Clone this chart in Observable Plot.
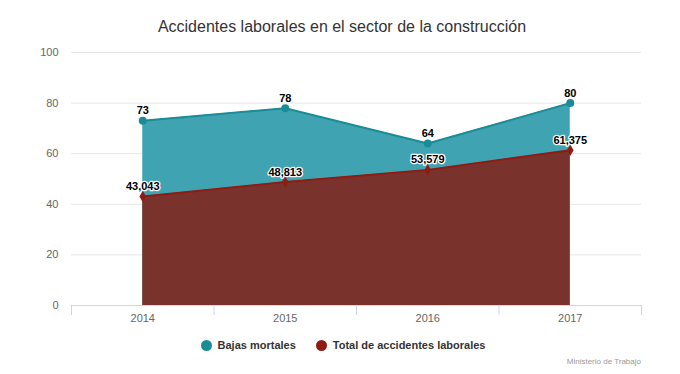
<!DOCTYPE html>
<html><head><meta charset="utf-8">
<script src="https://cdn.jsdelivr.net/npm/d3@7"></script>
<script src="https://cdn.jsdelivr.net/npm/@observablehq/plot@0.6"></script>
<style>
body{margin:0;background:#fff;font-family:"Liberation Sans",Arial,sans-serif;}
#wrap{width:680px;height:374px;position:relative;}
#title{position:absolute;top:18px;left:0;width:684px;text-align:center;font-size:16px;color:#333;}
#chart{position:absolute;top:40px;left:0;}
#legend{position:absolute;top:339px;left:0;width:686px;display:flex;justify-content:center;gap:20px;font-size:11px;font-weight:bold;color:#333;}
#legend span{display:flex;align-items:center;}
#legend i{display:inline-block;width:11px;height:11px;border-radius:50%;margin-right:6px;}
#credit{position:absolute;top:357px;right:39px;font-size:8px;color:#999;}
</style></head>
<body><div id="wrap">
<div id="title">Accidentes laborales en el sector de la construcción</div>
<div id="chart"></div>
<div id="legend"></div>
<div id="credit">Ministerio de Trabajo</div>
</div>
<script>
const years = [2014, 2015, 2016, 2017];
const bajasMortales = [73, 78, 64, 80];
const totalAccidentes = [43.043, 48.813, 53.579, 61.375];
const yTicks = [0, 20, 40, 60, 80, 100];
const seriesNames = ["Bajas mortales", "Total de accidentes laborales"];
const colors = {teal: "#40a3b1", tealLine: "#1a8c98", red: "#7a332c", redLine: "#8f1c12"};

const bajas = years.map((y, i) => ({year: y, value: bajasMortales[i], label: String(bajasMortales[i])}));
const total = years.map((y, i) => ({year: y, value: totalAccidentes[i], label: totalAccidentes[i].toFixed(3).replace(".", ",")}));
const bounds = d3.range(years.length + 1).map(i => years[0] - 0.5 + i);

const plot = Plot.plot({
  width: 680, height: 295,
  marginTop: 12, marginBottom: 30, marginLeft: 71, marginRight: 39,
  style: {fontFamily: '"Liberation Sans", Arial, sans-serif', fontSize: "11px", color: "#666", background: "transparent", overflow: "visible"},
  x: {domain: [years[0] - 0.5, years[years.length - 1] + 0.5], axis: null},
  y: {domain: [0, 100], axis: null},
  marks: [
    Plot.ruleY(yTicks.slice(1), {stroke: "#e6e6e6", strokeWidth: 1}),
    Plot.areaY(bajas, {x: "year", y: "value", fill: colors.teal}),
    Plot.lineY(bajas, {x: "year", y: "value", stroke: colors.tealLine, strokeWidth: 2}),
    Plot.areaY(total, {x: "year", y: "value", fill: colors.red}),
    Plot.lineY(total, {x: "year", y: "value", stroke: colors.redLine, strokeWidth: 2}),
    Plot.dot(bajas, {x: "year", y: "value", r: 4, fill: colors.tealLine}),
    Plot.dot(total, {x: "year", y: "value", r: 3.5, fill: colors.redLine, symbol: "diamond"}),
    Plot.ruleY([0], {stroke: "#ccd6eb"}),
    Plot.ruleX(bounds, {x: d => d, y1: 0, y2: 0, insetBottom: -10, stroke: "#ccd6eb"}),
    Plot.text(years, {x: d => d, y: 0, dy: 13, text: d => String(d), fill: "#666", fontSize: 11}),
    Plot.text(yTicks, {x: years[0] - 0.5, y: d => d, dx: -13, textAnchor: "end", text: d => String(d), fill: "#666", fontSize: 11}),
    Plot.text(bajas, {x: "year", y: "value", dy: -10, text: "label", fontWeight: "bold", fontSize: 11, fill: "#000", stroke: "#fff", strokeWidth: 2.5, paintOrder: "stroke"}),
    Plot.text(total, {x: "year", y: "value", dy: -10, text: "label", fontWeight: "bold", fontSize: 11, fill: "#000", stroke: "#fff", strokeWidth: 2.5, paintOrder: "stroke"})
  ]
});
document.getElementById("chart").appendChild(plot);

const legend = document.getElementById("legend");
[[seriesNames[0], colors.tealLine], [seriesNames[1], colors.redLine]].forEach(([n, c]) => {
  const s = document.createElement("span");
  s.innerHTML = `<i style="background:${c}"></i>${n}`;
  legend.appendChild(s);
});
</script>
</body></html>
